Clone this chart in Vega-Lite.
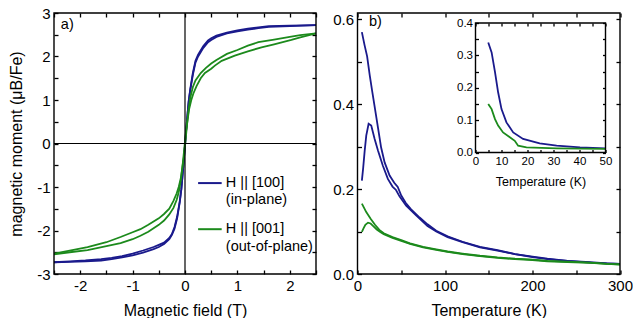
{
  "$schema": "https://vega.github.io/schema/vega-lite/v6.json",
  "padding": {"left": 8, "top": 6, "right": 0, "bottom": 0},
  "bounds": "flush",
  "spacing": 41.5,
  "config": {
    "font": "Liberation Sans",
    "view": {"stroke": null},
    "axis": {
      "grid": false, "domain": false, "tickColor": "#000", "tickWidth": 1.3,
      "tickSize": 4, "offset": -4, "labelPadding": 4, "labelColor": "#000", "labelFontSize": 15,
      "labelFont": "Liberation Sans", "titleFont": "Liberation Sans", "titleFontSize": 16,
      "titleFontWeight": "normal", "titleColor": "#000", "labelFlush": false, "labelOverlap": false, "labelBound": false
    }
  },
  "datasets": {
    "loops": [
      {"s":"in","b":"dn","H":2.5,"M":2.72},{"s":"in","b":"dn","H":2.0,"M":2.71},{"s":"in","b":"dn","H":1.6,"M":2.70},{"s":"in","b":"dn","H":1.4,"M":2.67},{"s":"in","b":"dn","H":1.2,"M":2.64},{"s":"in","b":"dn","H":1.0,"M":2.60},{"s":"in","b":"dn","H":0.8,"M":2.55},{"s":"in","b":"dn","H":0.6,"M":2.48},{"s":"in","b":"dn","H":0.5,"M":2.42},{"s":"in","b":"dn","H":0.44,"M":2.37},{"s":"in","b":"dn","H":0.35,"M":2.24},{"s":"in","b":"dn","H":0.25,"M":2.04},{"s":"in","b":"dn","H":0.2,"M":1.90},{"s":"in","b":"dn","H":0.15,"M":1.62},{"s":"in","b":"dn","H":0.1,"M":1.25},{"s":"in","b":"dn","H":0.07,"M":0.95},{"s":"in","b":"dn","H":0.05,"M":0.7},{"s":"in","b":"dn","H":0.03,"M":0.42},{"s":"in","b":"dn","H":0.01,"M":0.1},{"s":"in","b":"dn","H":-0.01,"M":-0.2},{"s":"in","b":"dn","H":-0.03,"M":-0.5},{"s":"in","b":"dn","H":-0.05,"M":-0.78},{"s":"in","b":"dn","H":-0.07,"M":-1.05},{"s":"in","b":"dn","H":-0.1,"M":-1.33},{"s":"in","b":"dn","H":-0.15,"M":-1.68},{"s":"in","b":"dn","H":-0.2,"M":-1.92},{"s":"in","b":"dn","H":-0.25,"M":-2.08},{"s":"in","b":"dn","H":-0.3,"M":-2.17},{"s":"in","b":"dn","H":-0.4,"M":-2.28},{"s":"in","b":"dn","H":-0.5,"M":-2.33},{"s":"in","b":"dn","H":-0.6,"M":-2.38},{"s":"in","b":"dn","H":-0.8,"M":-2.46},{"s":"in","b":"dn","H":-1.0,"M":-2.53},{"s":"in","b":"dn","H":-1.2,"M":-2.59},{"s":"in","b":"dn","H":-1.4,"M":-2.63},{"s":"in","b":"dn","H":-1.6,"M":-2.66},{"s":"in","b":"dn","H":-1.9,"M":-2.69},{"s":"in","b":"dn","H":-2.2,"M":-2.71},{"s":"in","b":"dn","H":-2.5,"M":-2.73},
      {"s":"in","b":"up","H":-2.5,"M":-2.73},{"s":"in","b":"up","H":-2.2,"M":-2.72},{"s":"in","b":"up","H":-1.9,"M":-2.71},{"s":"in","b":"up","H":-1.6,"M":-2.69},{"s":"in","b":"up","H":-1.4,"M":-2.66},{"s":"in","b":"up","H":-1.2,"M":-2.62},{"s":"in","b":"up","H":-1.0,"M":-2.57},{"s":"in","b":"up","H":-0.8,"M":-2.51},{"s":"in","b":"up","H":-0.6,"M":-2.43},{"s":"in","b":"up","H":-0.5,"M":-2.38},{"s":"in","b":"up","H":-0.4,"M":-2.31},{"s":"in","b":"up","H":-0.3,"M":-2.2},{"s":"in","b":"up","H":-0.25,"M":-2.1},{"s":"in","b":"up","H":-0.2,"M":-1.96},{"s":"in","b":"up","H":-0.15,"M":-1.72},{"s":"in","b":"up","H":-0.1,"M":-1.35},{"s":"in","b":"up","H":-0.07,"M":-1.05},{"s":"in","b":"up","H":-0.05,"M":-0.78},{"s":"in","b":"up","H":-0.03,"M":-0.5},{"s":"in","b":"up","H":-0.01,"M":-0.18},{"s":"in","b":"up","H":0.01,"M":0.12},{"s":"in","b":"up","H":0.03,"M":0.42},{"s":"in","b":"up","H":0.05,"M":0.7},{"s":"in","b":"up","H":0.07,"M":0.98},{"s":"in","b":"up","H":0.1,"M":1.22},{"s":"in","b":"up","H":0.15,"M":1.58},{"s":"in","b":"up","H":0.2,"M":1.86},{"s":"in","b":"up","H":0.25,"M":2.0},{"s":"in","b":"up","H":0.35,"M":2.2},{"s":"in","b":"up","H":0.44,"M":2.33},{"s":"in","b":"up","H":0.5,"M":2.38},{"s":"in","b":"up","H":0.6,"M":2.45},{"s":"in","b":"up","H":0.8,"M":2.53},{"s":"in","b":"up","H":1.0,"M":2.58},{"s":"in","b":"up","H":1.2,"M":2.62},{"s":"in","b":"up","H":1.4,"M":2.65},{"s":"in","b":"up","H":1.6,"M":2.68},{"s":"in","b":"up","H":2.0,"M":2.70},{"s":"in","b":"up","H":2.5,"M":2.72},
      {"s":"out","b":"dn","H":2.5,"M":2.53},{"s":"out","b":"dn","H":2.2,"M":2.49},{"s":"out","b":"dn","H":2.0,"M":2.45},{"s":"out","b":"dn","H":1.7,"M":2.39},{"s":"out","b":"dn","H":1.4,"M":2.33},{"s":"out","b":"dn","H":1.2,"M":2.25},{"s":"out","b":"dn","H":1.0,"M":2.15},{"s":"out","b":"dn","H":0.8,"M":2.06},{"s":"out","b":"dn","H":0.6,"M":1.92},{"s":"out","b":"dn","H":0.5,"M":1.84},{"s":"out","b":"dn","H":0.4,"M":1.74},{"s":"out","b":"dn","H":0.3,"M":1.62},{"s":"out","b":"dn","H":0.2,"M":1.45},{"s":"out","b":"dn","H":0.15,"M":1.3},{"s":"out","b":"dn","H":0.1,"M":1.05},{"s":"out","b":"dn","H":0.07,"M":0.8},{"s":"out","b":"dn","H":0.04,"M":0.45},{"s":"out","b":"dn","H":0.02,"M":0.2},{"s":"out","b":"dn","H":0.0,"M":-0.05},{"s":"out","b":"dn","H":-0.02,"M":-0.3},{"s":"out","b":"dn","H":-0.05,"M":-0.55},{"s":"out","b":"dn","H":-0.08,"M":-0.8},{"s":"out","b":"dn","H":-0.12,"M":-1.0},{"s":"out","b":"dn","H":-0.16,"M":-1.15},{"s":"out","b":"dn","H":-0.22,"M":-1.32},{"s":"out","b":"dn","H":-0.3,"M":-1.5},{"s":"out","b":"dn","H":-0.4,"M":-1.62},{"s":"out","b":"dn","H":-0.5,"M":-1.72},{"s":"out","b":"dn","H":-0.7,"M":-1.87},{"s":"out","b":"dn","H":-0.85,"M":-1.97},{"s":"out","b":"dn","H":-1.0,"M":-2.04},{"s":"out","b":"dn","H":-1.23,"M":-2.15},{"s":"out","b":"dn","H":-1.5,"M":-2.27},{"s":"out","b":"dn","H":-1.86,"M":-2.38},{"s":"out","b":"dn","H":-2.2,"M":-2.46},{"s":"out","b":"dn","H":-2.5,"M":-2.53},
      {"s":"out","b":"up","H":-2.5,"M":-2.55},{"s":"out","b":"up","H":-2.2,"M":-2.50},{"s":"out","b":"up","H":-1.86,"M":-2.45},{"s":"out","b":"up","H":-1.5,"M":-2.36},{"s":"out","b":"up","H":-1.23,"M":-2.29},{"s":"out","b":"up","H":-1.0,"M":-2.2},{"s":"out","b":"up","H":-0.85,"M":-2.12},{"s":"out","b":"up","H":-0.7,"M":-2.03},{"s":"out","b":"up","H":-0.5,"M":-1.87},{"s":"out","b":"up","H":-0.4,"M":-1.77},{"s":"out","b":"up","H":-0.3,"M":-1.63},{"s":"out","b":"up","H":-0.22,"M":-1.48},{"s":"out","b":"up","H":-0.16,"M":-1.3},{"s":"out","b":"up","H":-0.12,"M":-1.12},{"s":"out","b":"up","H":-0.08,"M":-0.85},{"s":"out","b":"up","H":-0.05,"M":-0.55},{"s":"out","b":"up","H":-0.02,"M":-0.2},{"s":"out","b":"up","H":0.0,"M":0.05},{"s":"out","b":"up","H":0.02,"M":0.3},{"s":"out","b":"up","H":0.05,"M":0.55},{"s":"out","b":"up","H":0.08,"M":0.8},{"s":"out","b":"up","H":0.12,"M":1.0},{"s":"out","b":"up","H":0.16,"M":1.15},{"s":"out","b":"up","H":0.22,"M":1.32},{"s":"out","b":"up","H":0.3,"M":1.5},{"s":"out","b":"up","H":0.38,"M":1.62},{"s":"out","b":"up","H":0.5,"M":1.72},{"s":"out","b":"up","H":0.57,"M":1.79},{"s":"out","b":"up","H":0.7,"M":1.9},{"s":"out","b":"up","H":0.95,"M":2.02},{"s":"out","b":"up","H":1.2,"M":2.12},{"s":"out","b":"up","H":1.46,"M":2.21},{"s":"out","b":"up","H":1.7,"M":2.28},{"s":"out","b":"up","H":2.03,"M":2.38},{"s":"out","b":"up","H":2.2,"M":2.44},{"s":"out","b":"up","H":2.5,"M":2.53}
    ],
    "mt": [
      {"s":"in","b":"fc","T":5,"M":0.570},{"s":"in","b":"fc","T":8,"M":0.54},{"s":"in","b":"fc","T":11,"M":0.513},{"s":"in","b":"fc","T":14,"M":0.468},{"s":"in","b":"fc","T":17,"M":0.428},{"s":"in","b":"fc","T":20,"M":0.389},{"s":"in","b":"fc","T":23.4,"M":0.345},{"s":"in","b":"fc","T":27,"M":0.298},{"s":"in","b":"fc","T":31,"M":0.263},{"s":"in","b":"fc","T":36.7,"M":0.232},{"s":"in","b":"fc","T":42,"M":0.215},{"s":"in","b":"fc","T":46,"M":0.205},{"s":"in","b":"fc","T":50,"M":0.185},{"s":"in","b":"fc","T":55,"M":0.168},{"s":"in","b":"fc","T":61,"M":0.153},{"s":"in","b":"fc","T":71,"M":0.133},{"s":"in","b":"fc","T":80,"M":0.117},{"s":"in","b":"fc","T":90,"M":0.102},{"s":"in","b":"fc","T":103,"M":0.089},{"s":"in","b":"fc","T":120,"M":0.076},{"s":"in","b":"fc","T":140,"M":0.064},{"s":"in","b":"fc","T":160,"M":0.056},{"s":"in","b":"fc","T":180,"M":0.047},{"s":"in","b":"fc","T":200,"M":0.041},{"s":"in","b":"fc","T":217,"M":0.036},{"s":"in","b":"fc","T":240,"M":0.031},{"s":"in","b":"fc","T":266,"M":0.028},{"s":"in","b":"fc","T":285,"M":0.025},{"s":"in","b":"fc","T":300,"M":0.024},
      {"s":"in","b":"zfc","T":5,"M":0.220},{"s":"in","b":"zfc","T":6.5,"M":0.25},{"s":"in","b":"zfc","T":8.2,"M":0.29},{"s":"in","b":"zfc","T":10,"M":0.326},{"s":"in","b":"zfc","T":12.7,"M":0.354},{"s":"in","b":"zfc","T":15.7,"M":0.350},{"s":"in","b":"zfc","T":19.6,"M":0.318},{"s":"in","b":"zfc","T":23.4,"M":0.291},{"s":"in","b":"zfc","T":29,"M":0.255},{"s":"in","b":"zfc","T":34.7,"M":0.224},{"s":"in","b":"zfc","T":40,"M":0.206},{"s":"in","b":"zfc","T":44,"M":0.198},{"s":"in","b":"zfc","T":48,"M":0.183},{"s":"in","b":"zfc","T":55.6,"M":0.161},{"s":"in","b":"zfc","T":67,"M":0.138},{"s":"in","b":"zfc","T":80,"M":0.113},{"s":"in","b":"zfc","T":90,"M":0.1},{"s":"in","b":"zfc","T":103,"M":0.087},{"s":"in","b":"zfc","T":120,"M":0.075},{"s":"in","b":"zfc","T":140,"M":0.063},{"s":"in","b":"zfc","T":160,"M":0.055},{"s":"in","b":"zfc","T":180,"M":0.047},{"s":"in","b":"zfc","T":200,"M":0.040},{"s":"in","b":"zfc","T":217,"M":0.035},{"s":"in","b":"zfc","T":240,"M":0.031},{"s":"in","b":"zfc","T":266,"M":0.027},{"s":"in","b":"zfc","T":285,"M":0.025},{"s":"in","b":"zfc","T":300,"M":0.024},
      {"s":"out","b":"fc","T":5,"M":0.166},{"s":"out","b":"fc","T":10,"M":0.146},{"s":"out","b":"fc","T":15,"M":0.13},{"s":"out","b":"fc","T":20,"M":0.116},{"s":"out","b":"fc","T":25,"M":0.104},{"s":"out","b":"fc","T":30,"M":0.096},{"s":"out","b":"fc","T":40,"M":0.087},{"s":"out","b":"fc","T":50,"M":0.08},{"s":"out","b":"fc","T":60,"M":0.072},{"s":"out","b":"fc","T":75,"M":0.064},{"s":"out","b":"fc","T":90,"M":0.058},{"s":"out","b":"fc","T":103,"M":0.053},{"s":"out","b":"fc","T":120,"M":0.048},{"s":"out","b":"fc","T":140,"M":0.043},{"s":"out","b":"fc","T":160,"M":0.039},{"s":"out","b":"fc","T":180,"M":0.036},{"s":"out","b":"fc","T":200,"M":0.034},{"s":"out","b":"fc","T":217,"M":0.031},{"s":"out","b":"fc","T":240,"M":0.029},{"s":"out","b":"fc","T":266,"M":0.027},{"s":"out","b":"fc","T":285,"M":0.024},{"s":"out","b":"fc","T":300,"M":0.023},
      {"s":"out","b":"zfc","T":5,"M":0.099},{"s":"out","b":"zfc","T":7,"M":0.108},{"s":"out","b":"zfc","T":9,"M":0.116},{"s":"out","b":"zfc","T":12,"M":0.121},{"s":"out","b":"zfc","T":15,"M":0.119},{"s":"out","b":"zfc","T":18,"M":0.113},{"s":"out","b":"zfc","T":22,"M":0.105},{"s":"out","b":"zfc","T":26,"M":0.099},{"s":"out","b":"zfc","T":30,"M":0.094},{"s":"out","b":"zfc","T":40,"M":0.085},{"s":"out","b":"zfc","T":50,"M":0.078},{"s":"out","b":"zfc","T":60,"M":0.071},{"s":"out","b":"zfc","T":75,"M":0.063},{"s":"out","b":"zfc","T":90,"M":0.057},{"s":"out","b":"zfc","T":103,"M":0.052},{"s":"out","b":"zfc","T":120,"M":0.047},{"s":"out","b":"zfc","T":140,"M":0.042},{"s":"out","b":"zfc","T":160,"M":0.038},{"s":"out","b":"zfc","T":180,"M":0.035},{"s":"out","b":"zfc","T":200,"M":0.033},{"s":"out","b":"zfc","T":217,"M":0.030},{"s":"out","b":"zfc","T":240,"M":0.028},{"s":"out","b":"zfc","T":266,"M":0.026},{"s":"out","b":"zfc","T":285,"M":0.024},{"s":"out","b":"zfc","T":300,"M":0.022}
    ],
    "inset": [
      {"s":"in","Ti":4.9,"Mi":0.340},{"s":"in","Ti":6.2,"Mi":0.309},{"s":"in","Ti":7.5,"Mi":0.248},{"s":"in","Ti":8.7,"Mi":0.186},{"s":"in","Ti":10,"Mi":0.134},{"s":"in","Ti":11.9,"Mi":0.093},{"s":"in","Ti":14.5,"Mi":0.062},{"s":"in","Ti":18.3,"Mi":0.042},{"s":"in","Ti":24.7,"Mi":0.028},{"s":"in","Ti":31.2,"Mi":0.021},{"s":"in","Ti":40.2,"Mi":0.016},{"s":"in","Ti":50,"Mi":0.013},
      {"s":"out","Ti":4.9,"Mi":0.150},{"s":"out","Ti":6.2,"Mi":0.134},{"s":"out","Ti":7.5,"Mi":0.103},{"s":"out","Ti":8.7,"Mi":0.083},{"s":"out","Ti":10.6,"Mi":0.062},{"s":"out","Ti":13.2,"Mi":0.047},{"s":"out","Ti":15.1,"Mi":0.036},{"s":"out","Ti":16.4,"Mi":0.021},{"s":"out","Ti":19.6,"Mi":0.016},{"s":"out","Ti":31.2,"Mi":0.013},{"s":"out","Ti":50,"Mi":0.011}
    ]
  },
  "hconcat": [
    {
      "width": 262, "height": 261,
      "resolve": {"scale": {"x": "independent", "y": "independent"}, "axis": {"x": "independent", "y": "independent"}},
      "layer": [
        {
          "data": {"name": "loops"},
          "mark": {"type": "line", "strokeWidth": 1.8},
          "encoding": {
            "x": {"field": "H", "type": "quantitative", "scale": {"domain": [-2.5, 2.5], "nice": false, "zero": false},
                  "axis": {"orient": "bottom", "title": "Magnetic field (T)", "titlePadding": 9, "values": [-2.5,-2,-1.5,-1,-0.5,0,0.5,1,1.5,2,2.5], "labelExpr": "datum.value % 1 == 0 ? toString(datum.value) : ''"}},
            "y": {"field": "M", "type": "quantitative", "scale": {"domain": [-3, 3], "nice": false, "zero": false},
                  "axis": {"orient": "left", "title": "magnetic moment (μB/Fe)", "titlePadding": 12, "values": [-3,-2.5,-2,-1.5,-1,-0.5,0,0.5,1,1.5,2,2.5,3], "labelExpr": "datum.value % 1 == 0 ? toString(datum.value) : ''"}},
            "color": {"field": "s", "type": "nominal", "scale": {"domain": ["in", "out"], "range": ["#1a1a8c", "#1c8a1c"]}, "legend": null},
            "detail": {"field": "b"}
          }
        },
        {
          "data": {"values": [{"H": 0, "M": 0}]},
          "mark": {"type": "point", "opacity": 0},
          "encoding": {
            "x": {"field": "H", "type": "quantitative", "scale": {"domain": [-2.5, 2.5], "nice": false, "zero": false}, "axis": {"orient": "top", "title": null, "labels": false, "values": [-2.5,-2,-1.5,-1,-0.5,0,0.5,1,1.5,2,2.5]}},
            "y": {"field": "M", "type": "quantitative", "scale": {"domain": [-3, 3], "nice": false, "zero": false}, "axis": {"orient": "right", "title": null, "labels": false, "values": [-3,-2.5,-2,-1.5,-1,-0.5,0,0.5,1,1.5,2,2.5,3]}}
          }
        },
        {
          "data": {"values": [{}]},
          "layer": [
            {"mark": {"type": "rect", "filled": false, "color": "#000", "strokeWidth": 1.4}, "encoding": {"x": {"datum": -2.5, "type": "quantitative", "axis": null}, "x2": {"datum": 2.5}, "y": {"datum": -3, "type": "quantitative", "axis": null}, "y2": {"datum": 3}}},
            {"mark": {"type": "rule", "color": "#000", "strokeWidth": 1.2}, "encoding": {"x": {"datum": 0, "type": "quantitative", "axis": null}, "y": {"datum": -3, "type": "quantitative", "axis": null}, "y2": {"datum": 3}}},
            {"mark": {"type": "rule", "color": "#000", "strokeWidth": 1.2}, "encoding": {"x": {"datum": -2.5, "type": "quantitative", "axis": null}, "x2": {"datum": 2.5}, "y": {"datum": 0, "type": "quantitative", "axis": null}}},
            {"mark": {"type": "rule", "color": "#1a1a8c", "strokeWidth": 2}, "encoding": {"x": {"datum": 0.25, "type": "quantitative", "axis": null}, "x2": {"datum": 0.7}, "y": {"datum": -0.91, "type": "quantitative", "axis": null}}},
            {"mark": {"type": "rule", "color": "#1c8a1c", "strokeWidth": 2}, "encoding": {"x": {"datum": 0.25, "type": "quantitative", "axis": null}, "x2": {"datum": 0.7}, "y": {"datum": -1.97, "type": "quantitative", "axis": null}}},
            {"mark": {"type": "text", "text": "H || [100]", "align": "left", "baseline": "middle", "fontSize": 14.5, "color": "#000"}, "encoding": {"x": {"datum": 0.78, "type": "quantitative", "axis": null}, "y": {"datum": -0.91, "type": "quantitative", "axis": null}}},
            {"mark": {"type": "text", "text": "(in-plane)", "align": "left", "baseline": "middle", "fontSize": 14.5, "color": "#000"}, "encoding": {"x": {"datum": 0.78, "type": "quantitative", "axis": null}, "y": {"datum": -1.31, "type": "quantitative", "axis": null}}},
            {"mark": {"type": "text", "text": "H || [001]", "align": "left", "baseline": "middle", "fontSize": 14.5, "color": "#000"}, "encoding": {"x": {"datum": 0.78, "type": "quantitative", "axis": null}, "y": {"datum": -1.97, "type": "quantitative", "axis": null}}},
            {"mark": {"type": "text", "text": "(out-of-plane)", "align": "left", "baseline": "middle", "fontSize": 14.5, "color": "#000"}, "encoding": {"x": {"datum": 0.78, "type": "quantitative", "axis": null}, "y": {"datum": -2.38, "type": "quantitative", "axis": null}}},
            {"mark": {"type": "text", "text": "a)", "align": "left", "baseline": "middle", "fontSize": 14.5, "color": "#000"}, "encoding": {"x": {"datum": -2.37, "type": "quantitative", "axis": null}, "y": {"datum": 2.72, "type": "quantitative", "axis": null}}}
          ],
          "encoding": {
            "x": {"type": "quantitative", "scale": {"domain": [-2.5, 2.5], "nice": false, "zero": false}},
            "y": {"type": "quantitative", "scale": {"domain": [-3, 3], "nice": false, "zero": false}}
          },
          "resolve": {"scale": {"x": "shared", "y": "shared"}}
        }
      ]
    },
    {
      "width": 262.5, "height": 261,
      "resolve": {"scale": {"x": "independent", "y": "independent"}, "axis": {"x": "independent", "y": "independent"}},
      "layer": [
        {
          "data": {"name": "mt"},
          "mark": {"type": "line", "strokeWidth": 1.8},
          "encoding": {
            "x": {"field": "T", "type": "quantitative", "scale": {"domain": [0, 300], "nice": false},
                  "axis": {"orient": "bottom", "title": "Temperature (K)", "titlePadding": 9, "values": [0,50,100,150,200,250,300], "labelExpr": "datum.value % 100 == 0 ? toString(datum.value) : ''"}},
            "y": {"field": "M", "type": "quantitative", "scale": {"domain": [0, 0.615], "nice": false},
                  "axis": {"orient": "left", "title": null, "values": [0,0.1,0.2,0.3,0.4,0.5,0.6], "labelExpr": "round(datum.value*10) % 2 == 0 ? format(datum.value, '.1f') : ''"}},
            "color": {"field": "s", "type": "nominal", "scale": {"domain": ["in", "out"], "range": ["#1a1a8c", "#1c8a1c"]}, "legend": null},
            "detail": {"field": "b"}
          }
        },
        {
          "data": {"values": [{"T": 0, "M": 0}]},
          "mark": {"type": "point", "opacity": 0},
          "encoding": {
            "x": {"field": "T", "type": "quantitative", "scale": {"domain": [0, 300], "nice": false}, "axis": {"orient": "top", "title": null, "labels": false, "values": [0,50,100,150,200,250,300]}},
            "y": {"field": "M", "type": "quantitative", "scale": {"domain": [0, 0.615], "nice": false}, "axis": {"orient": "right", "title": null, "labels": false, "values": [0,0.1,0.2,0.3,0.4,0.5,0.6]}}
          }
        },
        {
          "data": {"values": [{}]},
          "mark": {"type": "rect", "filled": false, "color": "#000", "strokeWidth": 1.4},
          "encoding": {
            "x": {"datum": 0, "type": "quantitative", "scale": {"domain": [0, 300], "nice": false}, "axis": null},
            "x2": {"datum": 300},
            "y": {"datum": 0, "type": "quantitative", "scale": {"domain": [0, 0.615], "nice": false}, "axis": null},
            "y2": {"datum": 0.615}
          }
        },
        {
          "data": {"name": "inset"},
          "mark": {"type": "line", "strokeWidth": 1.8},
          "encoding": {
            "x": {"field": "Ti", "type": "quantitative", "scale": {"domain": [0, 50], "nice": false, "range": [118, 248]},
                  "axis": {"orient": "bottom", "offset": -124.5, "title": "Temperature (K)", "titleFontSize": 12.5, "titlePadding": 8, "labelFontSize": 11.5, "tickSize": 3, "labelPadding": 3, "values": [0,5,10,15,20,25,30,35,40,45,50], "labelExpr": "datum.value % 10 == 0 ? toString(datum.value) : ''"}},
            "y": {"field": "Mi", "type": "quantitative", "scale": {"domain": [0, 0.4], "nice": false, "range": [139.5, 10]},
                  "axis": {"orient": "left", "offset": -121, "title": null, "labelFontSize": 11.5, "tickSize": 3, "labelPadding": 3, "values": [0,0.05,0.1,0.15,0.2,0.25,0.3,0.35,0.4], "labelExpr": "round(datum.value*100) % 10 == 0 ? format(datum.value, '.1f') : ''"}},
            "color": {"field": "s", "type": "nominal", "scale": {"domain": ["in", "out"], "range": ["#1a1a8c", "#1c8a1c"]}, "legend": null}
          }
        },
        {
          "data": {"values": [{"Ti": 0, "Mi": 0}]},
          "mark": {"type": "point", "opacity": 0},
          "encoding": {
            "x": {"field": "Ti", "type": "quantitative", "scale": {"domain": [0, 50], "nice": false, "range": [118, 248]}, "axis": {"orient": "top", "offset": -13, "title": null, "labels": false, "tickSize": 3, "values": [0,5,10,15,20,25,30,35,40,45,50]}},
            "y": {"field": "Mi", "type": "quantitative", "scale": {"domain": [0, 0.4], "nice": false, "range": [139.5, 10]}, "axis": {"orient": "right", "offset": -17.5, "title": null, "labels": false, "tickSize": 3, "values": [0,0.05,0.1,0.15,0.2,0.25,0.3,0.35,0.4]}}
          }
        },
        {
          "data": {"values": [{}]},
          "mark": {"type": "rect", "filled": false, "color": "#000", "strokeWidth": 1.4},
          "encoding": {
            "x": {"datum": 0, "type": "quantitative", "scale": {"domain": [0, 50], "nice": false, "range": [118, 248]}, "axis": null},
            "x2": {"datum": 50},
            "y": {"datum": 0, "type": "quantitative", "scale": {"domain": [0, 0.4], "nice": false, "range": [139.5, 10]}, "axis": null},
            "y2": {"datum": 0.4}
          }
        },
        {
          "data": {"values": [{}]},
          "mark": {"type": "text", "text": "b)", "align": "left", "baseline": "middle", "fontSize": 14.5, "color": "#000"},
          "encoding": {
            "x": {"datum": 13, "type": "quantitative", "scale": {"domain": [0, 300], "nice": false}, "axis": null},
            "y": {"datum": 0.594, "type": "quantitative", "scale": {"domain": [0, 0.615], "nice": false}, "axis": null}
          }
        }
      ]
    }
  ]
}
